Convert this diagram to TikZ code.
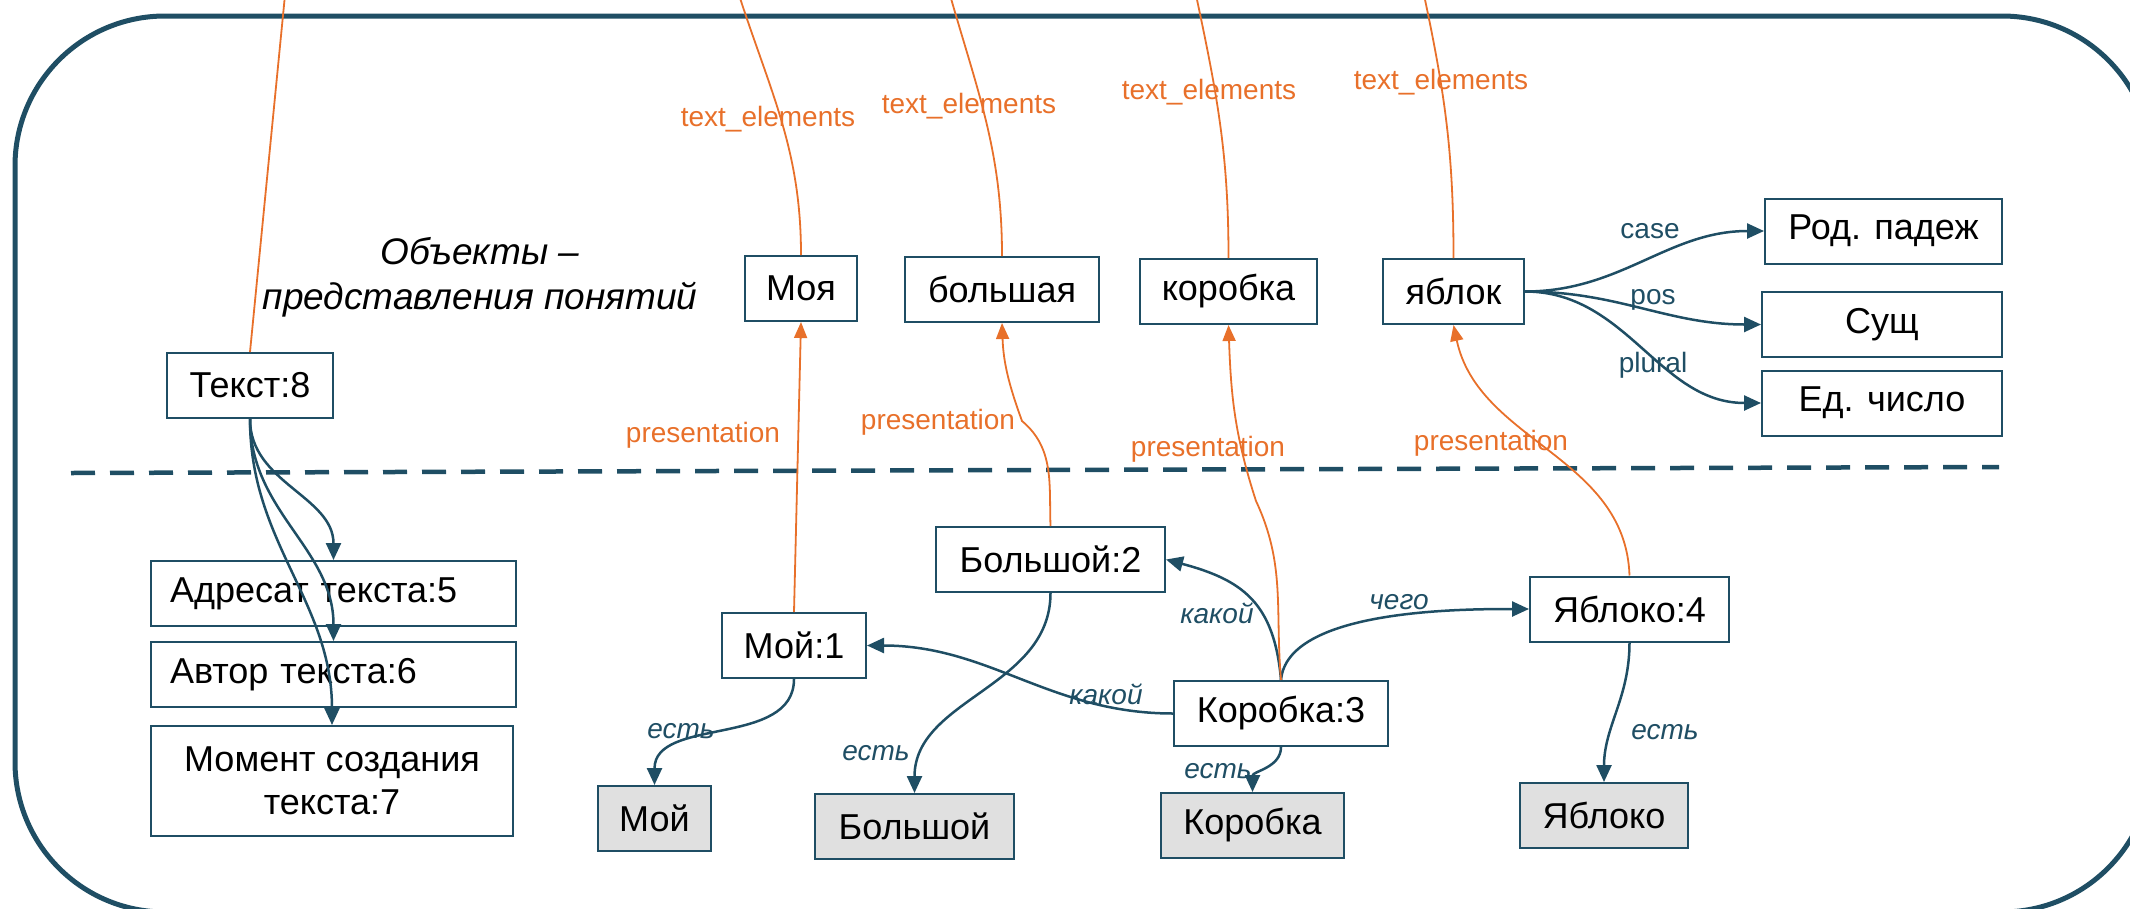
\documentclass[tikz,border=0pt]{standalone}
\usepackage{fontspec}
\setmainfont{Liberation Sans}
\usetikzlibrary{arrows.meta}

\definecolor{linkblue}{HTML}{1F4E64}
\definecolor{presorange}{HTML}{E8702A}
\definecolor{lemmagray}{HTML}{E0E0E0}

\tikzset{
  box/.style={draw=linkblue, line width=2pt, fill=white, minimum height=65pt, inner sep=0pt, font=\fontsize{36}{43}\selectfont},
  lemma/.style={box, fill=lemmagray},
  rel/.style={draw=linkblue, line width=2.5pt, -{Triangle[length=17pt,width=15pt]}},
  pres/.style={draw=presorange, line width=1.8pt, -{Triangle[length=16pt,width=13pt]}},
  elem/.style={draw=presorange, line width=1.8pt},
  rellabel/.style={text=linkblue, font=\fontsize{28}{32}\selectfont\itshape},
  featlabel/.style={text=linkblue, font=\fontsize{28}{32}\selectfont},
  preslabel/.style={text=presorange, font=\fontsize{28}{32}\selectfont}
}

\begin{document}
\begin{tikzpicture}[x=1pt,y=-1pt]
\useasboundingbox (0,0) rectangle (2130,908);
\clip (0,0) rectangle (2130,908);

\draw[linkblue, line width=5pt, rounded corners=150pt] (15,16) rectangle (2152,912);
\draw[linkblue, line width=4.5pt, dash pattern=on 24pt off 15pt] (71,473) -- (1999,467);

\node[align=center, font=\fontsize{37}{45}\selectfont\itshape] (objects) at (480,277) {Объекты –\\представления понятий};

\node[box, minimum width=166pt] (t8) at (250,385.5) {Текст:8};
\node[box, minimum width=112pt] (moya) at (801,288.5) {Моя};
\node[box, minimum width=194pt] (bolshaya) at (1002,289.5) {большая};
\node[box, minimum width=177pt] (korobka) at (1228.5,291.5) {коробка};
\node[box, minimum width=141pt] (yablok) at (1453.5,291.5) {яблок};
\node[box, minimum width=237pt] (rodpad) at (1883.5,231) {Род. падеж};
\node[box, minimum width=240pt] (sushch) at (1882,324.5) {Сущ};
\node[box, minimum width=240pt] (edchislo) at (1882,403) {Ед. число};

\node[box, text width=327pt, inner xsep=19pt, align=left] (adresat) at (333.5,593.5) {Адресат текста:5};
\node[box, text width=327pt, inner xsep=19pt, align=left] (avtor) at (333.5,674.5) {Автор текста:6};
\node[box, minimum width=362pt, minimum height=110pt, align=center] (moment) at (332,781) {Момент создания\\текста:7};

\node[box, minimum width=144pt] (moy1) at (794,645.5) {Мой:1};
\node[box, minimum width=229pt] (bolshoy2) at (1050.5,559.5) {Большой:2};
\node[box, minimum width=214pt] (korobka3) at (1281,713.5) {Коробка:3};
\node[box, minimum width=199pt] (yabloko4) at (1629.5,609) {Яблоко:4};

\node[lemma, minimum width=113pt] (moy) at (654.5,818.5) {Мой};
\node[lemma, minimum width=199pt] (bolshoy) at (914.5,826.5) {Большой};
\node[lemma, minimum width=183pt] (korobkaL) at (1252.5,825.5) {Коробка};
\node[lemma, minimum width=168pt] (yablokoL) at (1604,815.5) {Яблоко};

\node[preslabel] (te1) at (768,119) {text\_elements};
\node[preslabel] (te2) at (969,106) {text\_elements};
\node[preslabel] (te3) at (1209,92) {text\_elements};
\node[preslabel] (te4) at (1441,82) {text\_elements};
\node[preslabel] (pr1) at (703,435) {presentation};
\node[preslabel] (pr2) at (938,422) {presentation};
\node[preslabel] (pr3) at (1208,449) {presentation};
\node[preslabel] (pr4) at (1491,443) {presentation};

\node[featlabel] (lcase) at (1650,231) {case};
\node[featlabel] (lpos) at (1653,300) {pos};
\node[featlabel] (lplural) at (1653,365) {plural};
\node[rellabel] (lest1) at (681,731) {есть};
\node[rellabel] (lest2) at (876,753) {есть};
\node[rellabel] (lkakoy1) at (1106,694) {какой};
\node[rellabel] (lkakoy2) at (1217,613) {какой};
\node[rellabel] (lchego) at (1399,602) {чего};
\node[rellabel] (lest3) at (1218,771) {есть};
\node[rellabel] (lest4) at (1665,732) {есть};

\coordinate (t8top) at (285,-5);
\coordinate (moyatop) at (739,-5);
\coordinate (bolshayatop) at (950,-5);
\coordinate (korobkatop) at (1196,-5);
\coordinate (yabloktop) at (1424,-5);
\coordinate (kink2) at (1022,421);
\coordinate (kink3) at (1256,501);

\draw[rel] (t8.south) to[out=-90,in=90] (adresat.north);
\draw[rel] (t8.south) to[out=-90,in=90] (avtor.north);
\draw[rel] (t8.south) to[out=-90,in=90] (moment.north);

\draw[rel] (yablok.east) to[out=0,in=180] (rodpad.west);
\draw[rel] (yablok.east) to[out=0,in=180] (sushch.west);
\draw[rel] (yablok.east) to[out=0,in=180] (edchislo.west);

\draw[rel] (korobka3.west) to[out=180,in=0] (moy1.east);
\draw[rel] (korobka3.north) to[out=95,in=-15,looseness=1.2] (bolshoy2.east);
\draw[rel] (korobka3.north) to[out=85,in=180,looseness=0.7] (yabloko4.west);

\draw[rel] (moy1.south) to[out=-90,in=90] (moy.north);
\draw[rel] (bolshoy2.south) to[out=-90,in=90] (bolshoy.north);
\draw[rel] (korobka3.south) to[out=-90,in=90] (korobkaL.north);
\draw[rel] (yabloko4.south) to[out=-90,in=90] (yablokoL.north);

\draw[elem] (t8.north) -- (t8top);
\draw[elem] (moya.north) to[out=90,in=-72] (moyatop);
\draw[elem] (bolshaya.north) to[out=90,in=-74] (bolshayatop);
\draw[elem] (korobka.north) to[out=90,in=-78] (korobkatop);
\draw[elem] (yablok.north) to[out=90,in=-78] (yabloktop);

\draw[pres] (moy1.north) -- (moya.south);
\draw[pres] (bolshoy2.north) to[out=92,in=-40] (kink2) to[out=110,in=-88] (bolshaya.south);
\draw[pres] (korobka3.north) to[out=95,in=-65] (kink3) to[out=108,in=-88] (korobka.south);
\draw[pres] (yabloko4.north) to[out=92,in=-78] (yablok.south);

\end{tikzpicture}
\end{document}
